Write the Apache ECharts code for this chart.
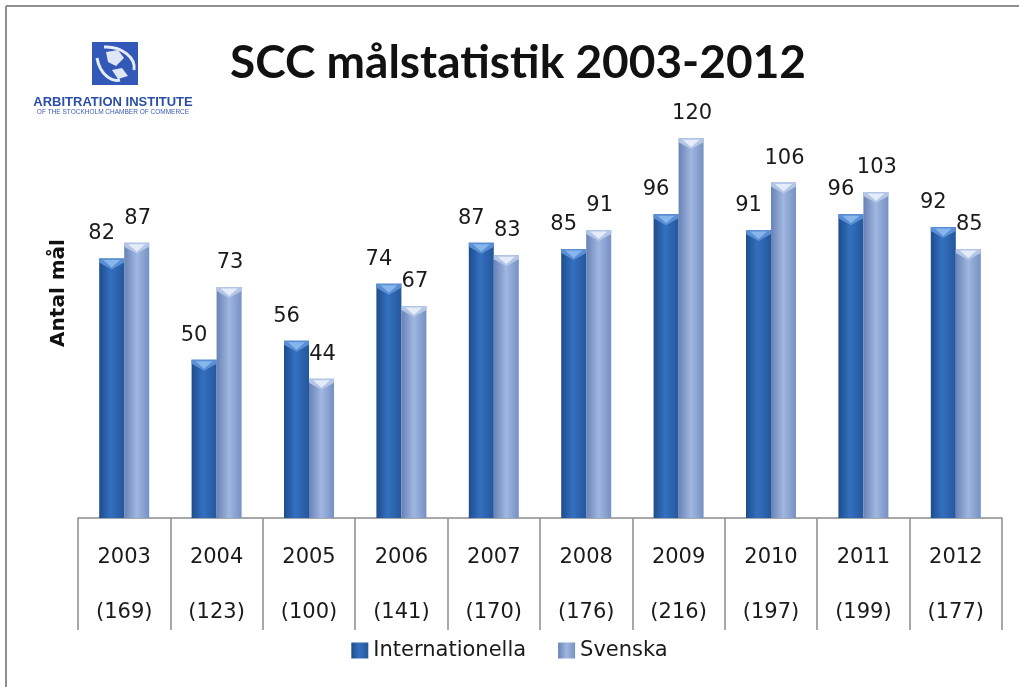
<!DOCTYPE html>
<html>
<head>
<meta charset="utf-8">
<script src="https://cdn.jsdelivr.net/npm/echarts@6/dist/echarts.min.js"></script>
<style>
html,body{margin:0;padding:0;background:#fff;}
#chart{width:1019px;height:687px;}
</style>
</head>
<body>
<div id="chart"></div>
<script>
var years = ['2003','2004','2005','2006','2007','2008','2009','2010','2011','2012'];
var totals = [169,123,100,141,170,176,216,197,199,177];
var internationella = [82,50,56,74,87,85,96,91,96,92];
var svenska = [87,73,44,67,83,91,120,106,103,85];
var seriesNames = ['Internationella','Svenska'];

var BAR_W = 25;
var chart = echarts.init(document.getElementById('chart'));

function capSeries(values, side, bandColor, hiColor) {
  return {
    type: 'custom',
    z: 5,
    silent: true,
    data: values.map(function (v, i) { return [i, v]; }),
    renderItem: function (params, api) {
      var p = api.coord([api.value(0), api.value(1)]);
      var xc = p[0] + side * BAR_W / 2;
      var x0 = xc - BAR_W / 2, x1 = xc + BAR_W / 2, y = p[1];
      return {
        type: 'group',
        children: [
          { type: 'polygon', shape: { points: [[x0, y], [x1, y], [x1, y + 4], [xc, y + 11], [x0, y + 4]] }, style: { fill: bandColor } },
          { type: 'polygon', shape: { points: [[x0 + 4, y + 1.5], [x1 - 4, y + 1.5], [xc, y + 9]] }, style: { fill: hiColor } }
        ]
      };
    }
  };
}

var darkGrad = new echarts.graphic.LinearGradient(0, 0, 1, 0, [
  { offset: 0, color: '#1d4c8c' }, { offset: 0.45, color: '#3470c0' }, { offset: 1, color: '#24579c' }
]);
var lightGrad = new echarts.graphic.LinearGradient(0, 0, 1, 0, [
  { offset: 0, color: '#6982b5' }, { offset: 0.5, color: '#9fb7e0' }, { offset: 1, color: '#7590c3' }
]);

var labelBase = {
  show: true, position: 'top', distance: 14,
  fontFamily: 'DejaVu Sans', fontSize: 21, color: '#1a1a1a'
};

chart.setOption({
  animation: false,
  backgroundColor: '#ffffff',
  grid: { left: 78, right: 17, top: 75, bottom: 169 },
  legend: {
    data: seriesNames,
    bottom: 21, left: 'center',
    icon: 'rect', itemWidth: 17, itemHeight: 16, itemGap: 32,
    textStyle: { fontFamily: 'DejaVu Sans', fontSize: 21, color: '#1a1a1a' }
  },
  xAxis: {
    type: 'category',
    data: years,
    axisLine: { show: true, lineStyle: { color: '#8c8c8c', width: 1.5 } },
    axisTick: { show: true, length: 112, interval: 0, lineStyle: { color: '#8c8c8c', width: 1.5 } },
    axisLabel: {
      interval: 0, margin: 12, lineHeight: 55,
      fontFamily: 'DejaVu Sans', fontSize: 21, color: '#1a1a1a',
      formatter: function (v, i) { return v + '\n(' + totals[i] + ')'; }
    }
  },
  yAxis: { type: 'value', min: 0, max: 140, show: false, splitLine: { show: false } },
  graphic: [
    { type: 'line', shape: { x1: 6, y1: 6, x2: 1019, y2: 6 }, style: { stroke: '#8f8f8f', lineWidth: 2 } },
    { type: 'line', shape: { x1: 6, y1: 6, x2: 6, y2: 687 }, style: { stroke: '#8f8f8f', lineWidth: 2 } },
    { type: 'text', x: 518, y: 63, style: { text: 'SCC målstatistik 2003-2012', font: 'bold 46px Lato', fill: '#111', textAlign: 'center', textVerticalAlign: 'middle' } },
    { type: 'text', x: 58.5, y: 293, rotation: Math.PI / 2, style: { text: 'Antal mål', font: 'bold 20px "DejaVu Sans"', fill: '#111', textAlign: 'center', textVerticalAlign: 'middle' } },
    { type: 'rect', shape: { x: 92, y: 42, width: 46, height: 43 }, style: { fill: '#3359b8' } },
    { type: 'bezierCurve', shape: { x1: 97, y1: 58, x2: 120, y2: 80, cpx1: 100, cpy1: 75, cpx2: 112, cpy2: 82 }, style: { stroke: '#e6ecf8', lineWidth: 3, fill: null } },
    { type: 'bezierCurve', shape: { x1: 104, y1: 47, x2: 134, y2: 70, cpx1: 122, cpy1: 46, cpx2: 136, cpy2: 58 }, style: { stroke: '#e6ecf8', lineWidth: 3, fill: null } },
    { type: 'polygon', shape: { points: [[106, 52], [118, 50], [124, 58], [116, 66], [108, 62]] }, style: { fill: '#dfe7f7' } },
    { type: 'polygon', shape: { points: [[112, 70], [122, 68], [128, 76], [118, 79]] }, style: { fill: '#dfe7f7' } },
    { type: 'text', x: 113, y: 102, style: { text: 'ARBITRATION INSTITUTE', font: 'bold 13px "Liberation Sans"', fill: '#2b4fa8', textAlign: 'center', textVerticalAlign: 'middle' } },
    { type: 'text', x: 113, y: 112, style: { text: 'OF THE STOCKHOLM CHAMBER OF COMMERCE', font: '6.5px "Liberation Sans"', fill: '#3a5cb0', textAlign: 'center', textVerticalAlign: 'middle' } }
  ],
  series: [
    {
      name: seriesNames[0], type: 'bar', data: internationella,
      barWidth: BAR_W, barGap: '0%',
      itemStyle: { color: darkGrad },
      label: Object.assign({}, labelBase, { offset: [-10, 0] })
    },
    {
      name: seriesNames[1], type: 'bar', data: svenska,
      barWidth: BAR_W, barGap: '0%',
      itemStyle: { color: lightGrad },
      label: Object.assign({}, labelBase, { offset: [1, 0] })
    },
    capSeries(internationella, -1, '#5a8fd6', '#86b6ec'),
    capSeries(svenska, 1, '#b4c6e6', '#e4ecf9')
  ]
});
</script>
</body>
</html>
